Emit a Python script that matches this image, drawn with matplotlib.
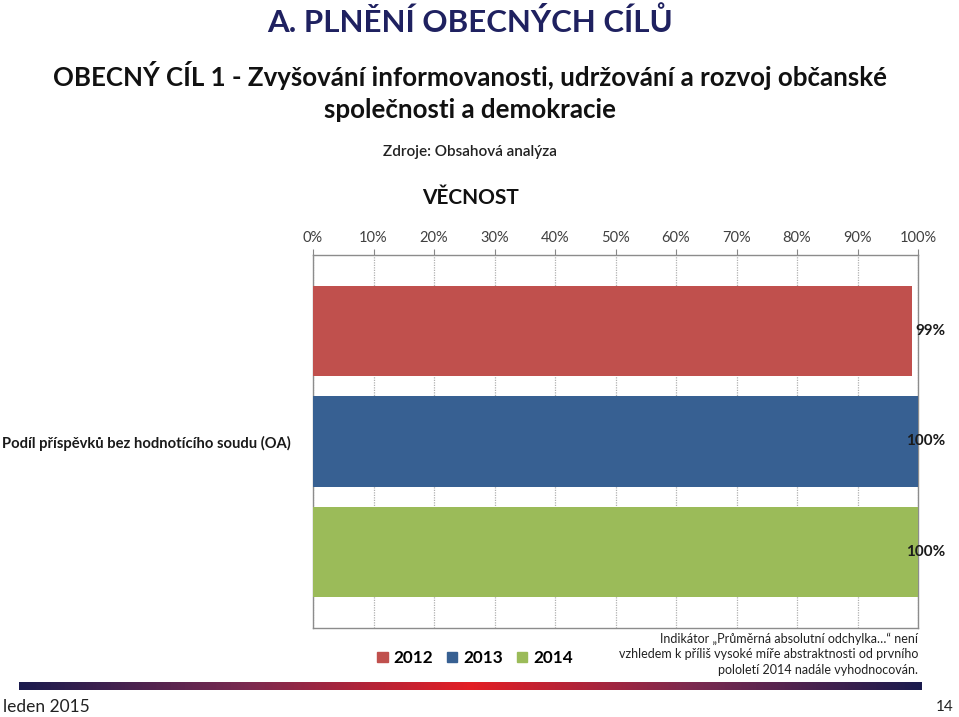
import numpy as np
import matplotlib.pyplot as plt
from matplotlib.colors import LinearSegmentedColormap

plt.rcParams['font.family'] = ['Lato', 'DejaVu Sans']

category = 'Podíl příspěvků bez hodnotícího soudu (OA)'
years = ['2012', '2013', '2014']
values = [0.99, 1.00, 1.00]
value_labels = ['99%', '100%', '100%']
colors = ['#C0504D', '#376092', '#9BBB59']
ticks = np.arange(0, 1.01, 0.1)
tick_labels = [f'{int(round(t * 100))}%' for t in ticks]

W, H = 959, 717
fig = plt.figure(figsize=(W / 100, H / 100), dpi=100)

# plot area in pixels: x 313..918, y 255..628
ax = fig.add_axes([313 / W, 1 - 628 / H, (918 - 313) / W, (628 - 255) / H])

pos = np.arange(len(years))
ax.barh(pos, values, height=0.818, color=colors, zorder=3)
ax.set_xlim(0, 1)
ax.set_ylim(1 + 1.695, 1 - 1.695)

for i, lab in enumerate(value_labels):
    ax.text(1.045, pos[i], lab, ha='right', va='center', fontsize=11,
            fontweight='bold', color='#1a1a1a', transform=ax.get_yaxis_transform(),
            clip_on=False, zorder=4)

ax.xaxis.tick_top()
ax.set_xticks(ticks)
ax.set_xticklabels(tick_labels, fontsize=10.5, color='#404040')
ax.tick_params(axis='x', length=4, color='#888888', pad=3)
ax.grid(axis='x', linestyle=(0, (1, 1)), color='#b0b0b0', linewidth=0.9, zorder=0)

ax.set_yticks([1])
ax.set_yticklabels([category], fontsize=10.6, fontweight='bold', color='#1a1a1a')
ax.tick_params(axis='y', length=0, pad=16)

for s in ['left', 'top', 'bottom', 'right']:
    ax.spines[s].set_color('#8c8c8c')
    ax.spines[s].set_linewidth(1.0)

# titles
fig.text(470 / W, 1 - 22 / H, 'A. PLNĚNÍ OBECNÝCH CÍLŮ', ha='center', va='center',
         fontsize=22.5, fontweight='bold', color='#1F2160')
fig.text(470 / W, 1 - 75 / H, 'OBECNÝ CÍL 1 - Zvyšování informovanosti, udržování a rozvoj občanské',
         ha='center', va='center', fontsize=18.6, fontweight='bold', color='#111111')
fig.text(470 / W, 1 - 110 / H, 'společnosti a demokracie',
         ha='center', va='center', fontsize=18.6, fontweight='bold', color='#111111')
fig.text(470 / W, 1 - 152 / H, 'Zdroje: Obsahová analýza', ha='center', va='center',
         fontsize=11, fontweight='semibold', color='#222222')
fig.text(470 / W, 1 - 198 / H, 'VĚCNOST', ha='center', va='center',
         fontsize=15, fontweight='bold', color='#111111')

# legend
handles = [plt.Rectangle((0, 0), 1, 1, color=c) for c in colors]
fig.legend(handles, years, loc='center', bbox_to_anchor=(475 / W, 1 - 658 / H),
           ncol=3, frameon=False, handlelength=0.6, handleheight=0.6,
           handletextpad=0.35, columnspacing=0.8,
           prop={'family': ['Lato', 'DejaVu Sans'], 'size': 12.3, 'weight': 'bold'})

# footnote
note = ('Indikátor „Průměrná absolutní odchylka…“ není\n'
        'vzhledem k příliš vysoké míře abstraktnosti od prvního\n'
        'pololetí 2014 nadále vyhodnocován.')
fig.text(918 / W, 1 - 654 / H, note, ha='right', va='center', fontsize=9,
         color='#222222', linespacing=1.35)

# gradient strip
gax = fig.add_axes([19 / W, 1 - 690 / H, (922 - 19) / W, 8 / H])
cmap = LinearSegmentedColormap.from_list('strip', ['#1B1B4D', '#7A2A50', '#E31E24', '#7A2A50', '#1B1B4D'])
gax.imshow(np.linspace(0, 1, 512)[None, :], aspect='auto', cmap=cmap)
gax.axis('off')

fig.text(3 / W, 1 - 707 / H, 'leden 2015', ha='left', va='center', fontsize=12.5, color='#222222')
fig.text(954 / W, 1 - 707 / H, '14', ha='right', va='center', fontsize=11, color='#222222')

fig.savefig('out.png', dpi=100)
